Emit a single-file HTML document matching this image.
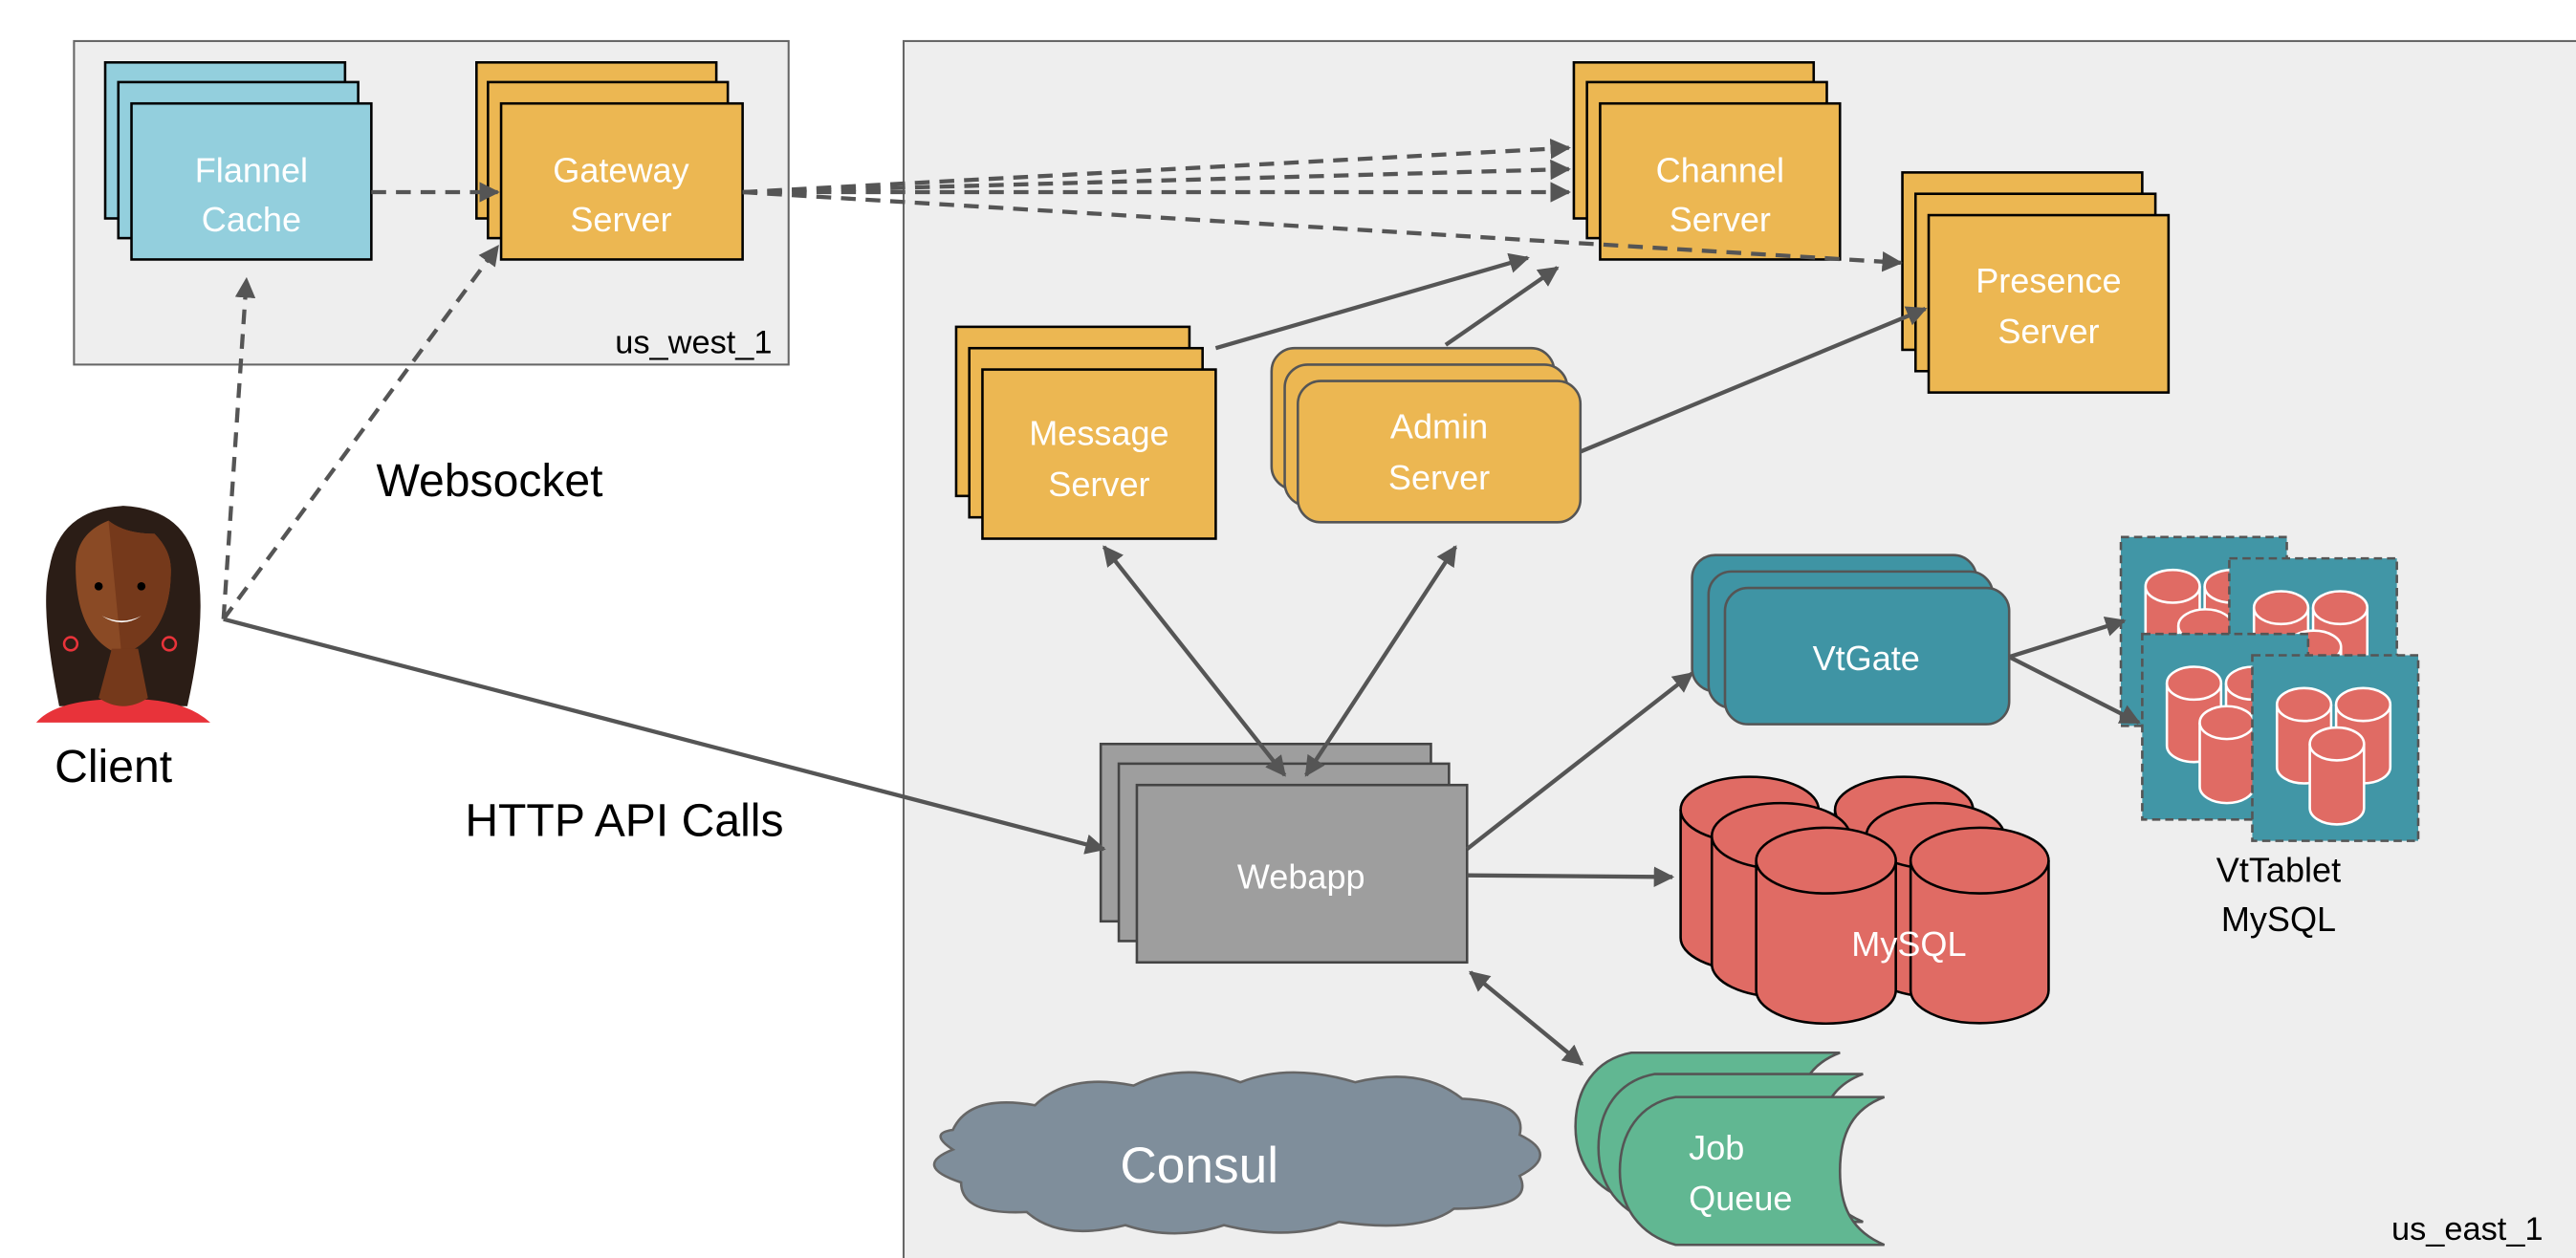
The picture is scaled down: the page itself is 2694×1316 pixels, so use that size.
<!DOCTYPE html>
<html><head><meta charset="utf-8"><style>
html,body{margin:0;padding:0;background:#fff;}
svg{display:block;}
text{font-family:"Liberation Sans","DejaVu Sans",sans-serif;}
</style></head><body>
<svg width="2694" height="1316" viewBox="0 0 1568 766" xmlns="http://www.w3.org/2000/svg">
<defs>
<marker id="a" viewBox="0 0 10 10" refX="9" refY="5" markerWidth="5" markerHeight="5" orient="auto-start-reverse" markerUnits="strokeWidth"><path d="M0,0L10,5L0,10z" fill="#555"/></marker>
<g id="tc" fill="#e06b64" stroke="#fff" stroke-width="1.5">
<path d="M15,30v38a16.5,10 0 0 0 33,0v-38"/><ellipse cx="31.5" cy="30" rx="16.5" ry="10"/>
<path d="M51,30v38a16.5,10 0 0 0 33,0v-38"/><ellipse cx="67.5" cy="30" rx="16.5" ry="10"/>
<path d="M35,54v39a16.5,10 0 0 0 33,0v-39"/><ellipse cx="51.5" cy="54" rx="16.5" ry="10"/>
</g>
</defs>
<rect width="1568" height="766" fill="#fff"/>
<rect x="45" y="25" width="435" height="197" fill="#eeeeee" stroke="#666" stroke-width="1.2"/>
<text x="470" y="215" font-size="20" text-anchor="end" fill="#000">us_west_1</text>
<rect x="550" y="25" width="1030" height="760" fill="#eeeeee" stroke="#666" stroke-width="1.2"/>
<text x="1548" y="755" font-size="20" text-anchor="end" fill="#000">us_east_1</text>

<g stroke="#000" stroke-width="1.5">
<g fill="#93cfdd"><rect x="64" y="38" width="146" height="95"/><rect x="72" y="50" width="146" height="95"/><rect x="80" y="63" width="146" height="95"/></g>
<g fill="#ecb752"><rect x="290" y="38" width="146" height="95"/><rect x="297" y="50" width="146" height="95"/><rect x="305" y="63" width="147" height="95"/></g>
<g fill="#ecb752"><rect x="958" y="38" width="146" height="95"/><rect x="966" y="50" width="146" height="95"/><rect x="974" y="63" width="146" height="95"/></g>
<g fill="#ecb752"><rect x="1158" y="105" width="146" height="108"/><rect x="1166" y="118" width="146" height="108"/><rect x="1174" y="131" width="146" height="108"/></g>
<g fill="#ecb752"><rect x="582" y="199" width="142" height="103"/><rect x="590" y="212" width="142" height="103"/><rect x="598" y="225" width="142" height="103"/></g>
<g fill="#ecb752" stroke="#555"><rect x="774" y="212" width="172" height="86" rx="14"/><rect x="782" y="222" width="172" height="86" rx="14"/><rect x="790" y="232" width="172" height="86" rx="14"/></g>
<g fill="#3f94a4" stroke="#555"><rect x="1030" y="338" width="173" height="83" rx="14"/><rect x="1040" y="348" width="173" height="83" rx="14"/><rect x="1050" y="358" width="173" height="83" rx="14"/></g>
<g fill="#9e9e9e" stroke="#444"><rect x="670" y="453" width="201" height="108"/><rect x="681" y="465" width="201" height="108"/><rect x="692" y="478" width="201" height="108"/></g>
</g>

<!-- vttablet -->
<g>
<rect x="1291" y="327" width="101" height="115" fill="#4196a6" stroke="#555" stroke-width="1.5" stroke-dasharray="5,3"/>
<use href="#tc" x="1291" y="327"/>
<rect x="1357" y="340" width="102" height="113" fill="#4196a6" stroke="#555" stroke-width="1.5" stroke-dasharray="5,3"/>
<use href="#tc" x="1357" y="340"/>
<rect x="1304" y="386" width="101" height="113" fill="#4196a6" stroke="#555" stroke-width="1.5" stroke-dasharray="5,3"/>
<use href="#tc" x="1304" y="386"/>
<rect x="1371" y="399" width="101" height="113" fill="#4196a6" stroke="#555" stroke-width="1.5" stroke-dasharray="5,3"/>
<use href="#tc" x="1371" y="399"/>
</g>

<!-- mysql -->
<g fill="#e06b64" stroke="#000" stroke-width="1.5">
<path d="M1023,493v78a42,20 0 0 0 84,0v-78"/><ellipse cx="1065" cy="493" rx="42" ry="20"/>
<path d="M1117,493v78a42,20 0 0 0 84,0v-78"/><ellipse cx="1159" cy="493" rx="42" ry="20"/>
<path d="M1042,509v78a42,20 0 0 0 84,0v-78"/><ellipse cx="1084" cy="509" rx="42" ry="20"/>
<path d="M1136,509v78a42,20 0 0 0 84,0v-78"/><ellipse cx="1178" cy="509" rx="42" ry="20"/>
<path d="M1069,524v79a42,20 0 0 0 85,0v-79"/><ellipse cx="1111.5" cy="524" rx="42.5" ry="20"/>
<path d="M1163,524v79a42,20 0 0 0 84,0v-79"/><ellipse cx="1205" cy="524" rx="42" ry="20"/>
</g>

<!-- job queue -->
<g fill="#61b792" stroke="#555" stroke-width="1.5">
<path d="M1020,668H1147C1128,675 1120,690 1120,713C1120,736 1128,750 1147,758H1020C998,752 986,735 986,713C986,690 998,672 1020,668Z" transform="translate(-27,-27)"/>
<path d="M1020,668H1147C1128,675 1120,690 1120,713C1120,736 1128,750 1147,758H1020C998,752 986,735 986,713C986,690 998,672 1020,668Z" transform="translate(-13,-14)"/>
<path d="M1020,668H1147C1128,675 1120,690 1120,713C1120,736 1128,750 1147,758H1020C998,752 986,735 986,713C986,690 998,672 1020,668Z"/>
</g>

<!-- consul -->
<path d="M580,688 q10,-22 50,-15 q20,-20 60,-12 q30,-15 65,-2 q30,-12 70,0 q40,-10 65,10 q40,2 35,22 q25,12 0,25 q10,20 -40,20 q-20,15 -70,8 q-30,12 -70,2 q-30,10 -60,0 q-40,10 -60,-8 q-40,2 -40,-18 q-30,-10 -5,-20 q-15,-10 0,-12z" fill="#7f8e9b" stroke="#666" stroke-width="1.5"/>

<g stroke="#555" stroke-width="2.5" fill="none">
<g stroke-dasharray="9,6">
<line x1="226" y1="117" x2="303" y2="117" marker-end="url(#a)"/>
<line x1="136" y1="377" x2="150" y2="170" marker-end="url(#a)"/>
<line x1="136" y1="377" x2="303" y2="150" marker-end="url(#a)"/>
<line x1="452" y1="117" x2="955" y2="90" marker-end="url(#a)"/>
<line x1="452" y1="117" x2="955" y2="103" marker-end="url(#a)"/>
<line x1="452" y1="117" x2="955" y2="117" marker-end="url(#a)"/>
<line x1="452" y1="117" x2="1157" y2="160" marker-end="url(#a)"/>
</g>
<line x1="136" y1="377" x2="672" y2="517" marker-end="url(#a)"/>
<line x1="740" y1="212" x2="930" y2="157" marker-end="url(#a)"/>
<line x1="880" y1="210" x2="948" y2="163" marker-end="url(#a)"/>
<line x1="962" y1="275" x2="1172" y2="188" marker-end="url(#a)"/>
<line x1="672" y1="333" x2="782" y2="472" marker-start="url(#a)" marker-end="url(#a)"/>
<line x1="886" y1="333" x2="795" y2="472" marker-start="url(#a)" marker-end="url(#a)"/>
<line x1="893" y1="517" x2="1030" y2="410" marker-end="url(#a)"/>
<line x1="893" y1="533" x2="1018" y2="534" marker-end="url(#a)"/>
<line x1="895" y1="592" x2="963" y2="648" marker-start="url(#a)" marker-end="url(#a)"/>
<line x1="1223" y1="400" x2="1293" y2="378" marker-end="url(#a)"/>
<line x1="1223" y1="400" x2="1302" y2="440" marker-end="url(#a)"/>
</g>

<!-- client face -->
<g>
<path d="M36,430 q-12,-60 -6,-84 q6,-36 45,-38 q39,2 45,38 q6,30 -6,84z" fill="#2b1d16"/>
<path d="M22,440 q10,-12 40,-14 h28 q25,2 38,14z" fill="#e8333a"/>
<path d="M46,345 q0,-20 20,-28 q10,8 28,8 q10,10 10,22 q0,40 -30,52 q-28,-10 -28,-54z" fill="#8a4a25"/>
<path d="M66,317 q10,8 28,8 q10,10 10,22 q0,40 -30,52z" fill="#75391b"/>
<path d="M60,425 l8,-30 h16 l6,30 q-15,10 -30,0z" fill="#75391b"/>
<path d="M62,375 q12,6 24,0 q-12,8 -24,0z" fill="#fff"/>
<circle cx="60" cy="357" r="2.5" fill="#000"/><circle cx="86" cy="357" r="2.5" fill="#000"/>
<circle cx="43" cy="392" r="4" fill="none" stroke="#e8333a" stroke-width="1.5"/>
<circle cx="103" cy="392" r="4" fill="none" stroke="#e8333a" stroke-width="1.5"/>
</g>

<g fill="#fff" font-size="21" text-anchor="middle">
<text x="153" y="111">Flannel</text><text x="153" y="141">Cache</text>
<text x="378" y="111">Gateway</text><text x="378" y="141">Server</text>
<text x="1047" y="111">Channel</text><text x="1047" y="141">Server</text>
<text x="1247" y="178">Presence</text><text x="1247" y="209">Server</text>
<text x="669" y="271">Message</text><text x="669" y="302">Server</text>
<text x="876" y="267">Admin</text><text x="876" y="298">Server</text>
<text x="1136" y="408">VtGate</text>
<text x="792" y="541">Webapp</text>
<text x="1162" y="582">MySQL</text>
<text x="1028" y="706" text-anchor="start">Job</text><text x="1028" y="737" text-anchor="start">Queue</text>
<text x="730" y="720" font-size="31">Consul</text>
</g>
<g fill="#000" text-anchor="middle">
<text x="1387" y="537" font-size="21">VtTablet</text><text x="1387" y="567" font-size="21">MySQL</text>
<text x="298" y="302" font-size="28">Websocket</text>
<text x="69" y="476" font-size="28">Client</text>
<text x="380" y="509" font-size="28">HTTP API Calls</text>
</g>
</svg>
</body></html>
